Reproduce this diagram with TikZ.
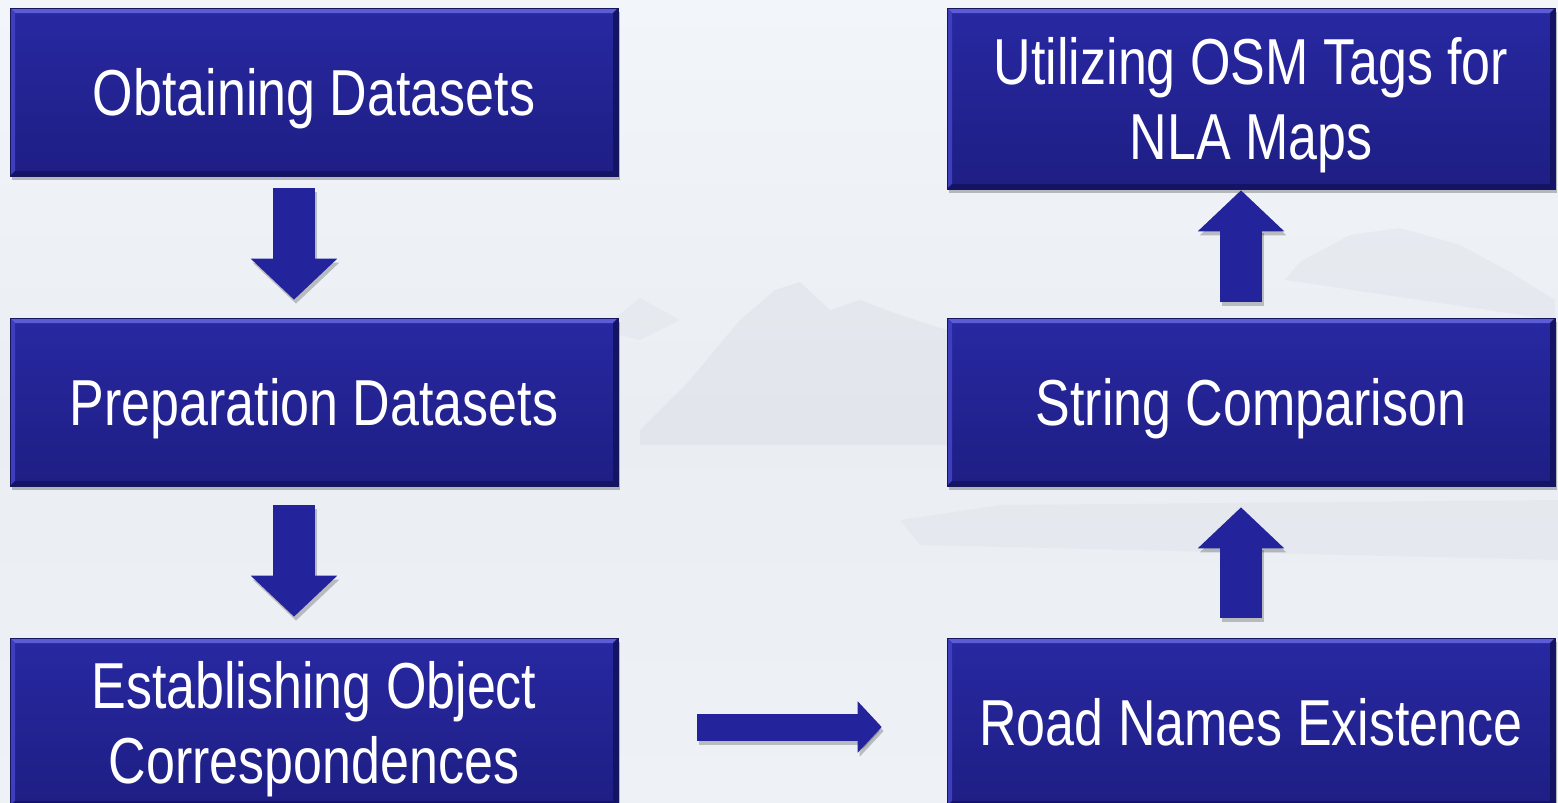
\documentclass[tikz,border=0pt]{standalone}
\usepackage{fontspec}
\setmainfont{Liberation Sans}[FakeStretch=0.8]
\usetikzlibrary{calc,arrows.meta,shadows}
\definecolor{bgtop}{RGB}{242,245,249}
\definecolor{bgmid}{RGB}{234,238,243}
\definecolor{bgbot}{RGB}{238,241,245}
\definecolor{boxtop}{RGB}{40,40,162}
\definecolor{boxbot}{RGB}{30,30,132}
\definecolor{boxedge}{RGB}{22,22,95}
\definecolor{bevlight}{RGB}{92,92,215}
\definecolor{bevside}{RGB}{62,62,190}
\definecolor{bevdark}{RGB}{20,20,100}
\definecolor{arrowfill}{RGB}{35,35,155}
\definecolor{mount}{RGB}{200,205,214}
\tikzset{
  procbox/.style={draw=boxedge, line width=0.6pt, top color=boxtop, bottom color=boxbot,
    minimum width=608pt, minimum height=168pt, inner sep=0pt, text=white, align=center,
    font=\fontsize{65}{75}\selectfont, text depth=0pt,
    drop shadow={shadow xshift=2pt, shadow yshift=-4pt, opacity=0.35, fill=black!70},
    path picture={
      \fill[bevlight] (path picture bounding box.north west) -- (path picture bounding box.north east)
        -- ([shift={(-5pt,-5pt)}]path picture bounding box.north east) -- ([shift={(5pt,-5pt)}]path picture bounding box.north west) -- cycle;
      \fill[bevside] (path picture bounding box.north west) -- ([shift={(5pt,-5pt)}]path picture bounding box.north west)
        -- ([shift={(5pt,5pt)}]path picture bounding box.south west) -- (path picture bounding box.south west) -- cycle;
      \fill[bevdark] (path picture bounding box.north east) -- ([shift={(-5pt,-5pt)}]path picture bounding box.north east)
        -- ([shift={(-5pt,5pt)}]path picture bounding box.south east) -- (path picture bounding box.south east) -- cycle;
      \fill[bevdark] (path picture bounding box.south west) -- ([shift={(5pt,5pt)}]path picture bounding box.south west)
        -- ([shift={(-5pt,5pt)}]path picture bounding box.south east) -- (path picture bounding box.south east) -- cycle;
    }},
  bigarrowshadow/.style={draw=black, opacity=0.22, line width=42pt, -{Triangle[width=84pt,length=41pt]}},
  bigarrow/.style={draw=arrowfill, line width=42pt, -{Triangle[width=84pt,length=41pt]}},
  smallarrowshadow/.style={draw=black, opacity=0.22, line width=27pt, -{Triangle[width=50pt,length=24pt]}},
  smallarrow/.style={draw=arrowfill, line width=27pt, -{Triangle[width=50pt,length=24pt]}},
}
\begin{document}
\begin{tikzpicture}[x=1pt,y=-1pt]
\useasboundingbox (0,0) rectangle (1558,803);
% background
\shade[top color=bgtop, bottom color=bgmid] (0,0) rectangle (1558,420);
\shade[top color=bgmid, bottom color=bgbot] (0,420) rectangle (1558,803);
% faint mountains
\fill[mount, opacity=0.22] (640,430) -- (690,380) -- (740,320) -- (775,290) -- (800,282) -- (830,310) -- (860,300) -- (900,315) -- (947,330) -- (947,445) -- (640,445) -- cycle;
\fill[mount, opacity=0.18] (1555,300) -- (1510,272) -- (1460,245) -- (1400,228) -- (1350,235) -- (1300,262) -- (1285,280) -- (1555,320) -- cycle;
\fill[mount, opacity=0.15] (600,330) -- (640,298) -- (680,320) -- (640,340) -- cycle;
\fill[mount, opacity=0.15] (900,520) -- (1000,505) -- (1558,500) -- (1558,560) -- (920,545) -- cycle;

% boxes
\node[procbox] (b1) at (314,92) {Obtaining Datasets};
\node[procbox] (b2) at (314,402) {Preparation Datasets};
\node[procbox] (b3) at (314,722) {Establishing Object\\Correspondences};
\node[procbox, minimum height=181pt] (b4) at (1251,98.5) {Utilizing OSM Tags for\\NLA Maps};
\node[procbox] (b5) at (1251,402) {String Comparison};
\node[procbox] (b6) at (1251,722) {Road Names Existence};

% arrows (shadows)
\draw[bigarrowshadow] ($(b1.south)+(-18,16)$) -- ($(b2.north)+(-18,-14)$);
\draw[bigarrowshadow] ($(b2.south)+(-18,23)$) -- ($(b3.north)+(-18,-17)$);
\draw[smallarrowshadow] ($(b3.east)+(81,9)$) -- ($(b6.west)+(-63,9)$);
\draw[bigarrowshadow] ($(b5.north)+(-8,-12)$) -- ($(b4.south)+(-8,5)$);
\draw[bigarrowshadow] ($(b6.north)+(-8,-16)$) -- ($(b5.south)+(-8,25)$);
% arrows
\draw[bigarrow] ($(b1.south)+(-20,12)$) -- ($(b2.north)+(-20,-18)$);
\draw[bigarrow] ($(b2.south)+(-20,19)$) -- ($(b3.north)+(-20,-21)$);
\draw[smallarrow] ($(b3.east)+(79,5)$) -- ($(b6.west)+(-65,5)$);
\draw[bigarrow] ($(b5.north)+(-10,-16)$) -- ($(b4.south)+(-10,1)$);
\draw[bigarrow] ($(b6.north)+(-10,-20)$) -- ($(b5.south)+(-10,21)$);
\end{tikzpicture}
\end{document}
